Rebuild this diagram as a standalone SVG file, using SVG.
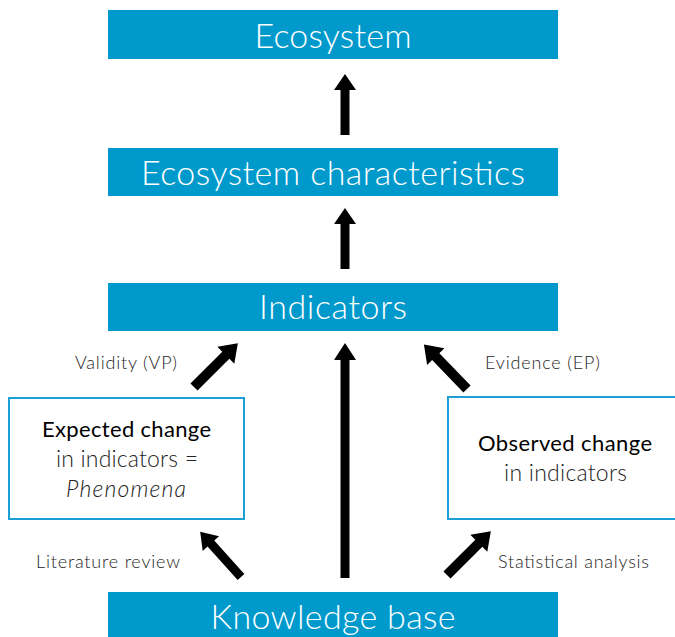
<svg xmlns="http://www.w3.org/2000/svg" xmlns:xlink="http://www.w3.org/1999/xlink" width="675" height="637" viewBox="0 0 675 637">
  <style>
    .bar { fill: #0099cc; }
    .bar-text { fill: #ffffff; font-family: Lato, "Open Sans", "Liberation Sans", sans-serif; font-weight: 300; font-size: 34px; text-anchor: middle; }
    .box { fill: #ffffff; stroke: #1c9fd4; stroke-width: 2; }
    .box-title { fill: #000000; font-family: Lato, "Open Sans", "Liberation Sans", sans-serif; font-size: 22px; text-anchor: middle; }
    .box-text { fill: #222222; font-family: Lato, "Open Sans", "Liberation Sans", sans-serif; font-weight: 300; font-size: 23px; text-anchor: middle; }
    .label { fill: #1e1e1e; font-family: Lato, "Open Sans", "Liberation Sans", sans-serif; font-weight: 300; font-size: 18px; }
    .arrow { fill: #000000; }
  </style>
  <defs>
    <!-- block arrows pointing up from the origin -->
    <path id="arrow61" d="M-4.5,0 V-45 H-11 L0,-61 L11,-45 H4.5 V0 Z"/>
    <path id="arrow62" d="M-5,0 V-45 H-12 L0,-62 L12,-45 H5 V0 Z"/>
  </defs>

  <g id="ecosystem">
    <rect class="bar" x="108" y="10" width="450" height="49"/>
    <text class="bar-text" x="333" y="48" textLength="157">Ecosystem</text>
  </g>
  <g id="ecosystem-characteristics">
    <rect class="bar" x="108" y="148" width="450" height="48"/>
    <text class="bar-text" x="333" y="185" textLength="384">Ecosystem characteristics</text>
  </g>
  <g id="indicators">
    <rect class="bar" x="108" y="283" width="450" height="48"/>
    <text class="bar-text" x="333" y="319" textLength="148">Indicators</text>
  </g>
  <g id="knowledge-base">
    <rect class="bar" x="108" y="592" width="450" height="50"/>
    <text class="bar-text" x="333" y="629" textLength="245">Knowledge base</text>
  </g>
  <g id="expected-change">
    <rect class="box" x="9" y="398" width="235" height="121"/>
    <text class="box-title" x="126.5" y="437" textLength="169">Expected change</text>
    <text class="box-text" x="127" y="467" textLength="142">in indicators =</text>
    <text class="box-text" x="126" y="497" font-style="italic" textLength="120">Phenomena</text>
  </g>
  <g id="observed-change">
    <rect class="box" x="448" y="397" width="240" height="122"/>
    <text class="box-title" x="565" y="451" textLength="174">Observed change</text>
    <text class="box-text" x="565.5" y="481" textLength="123">in indicators</text>
  </g>

  <g id="connectors" class="arrow">
    <use xlink:href="#arrow61" transform="translate(345,135)"/>
    <use xlink:href="#arrow61" transform="translate(345,269)"/>
    <path d="M340.5,578 V360 H334 L345,343 L356,360 H349.5 V578 Z"/>
    <use xlink:href="#arrow62" transform="translate(194,387) rotate(45)"/>
    <use xlink:href="#arrow62" transform="translate(467,389) rotate(-44)"/>
    <use xlink:href="#arrow61" transform="translate(241,577) rotate(-42)"/>
    <use xlink:href="#arrow62" transform="translate(447,575) rotate(45)"/>
  </g>

  <g id="labels">
    <text class="label" x="75" y="369" textLength="102">Validity (VP)</text>
    <text class="label" x="485" y="369" textLength="115">Evidence (EP)</text>
    <text class="label" x="36" y="568" textLength="144">Literature review</text>
    <text class="label" x="498" y="568" textLength="151">Statistical analysis</text>
  </g>
</svg>
